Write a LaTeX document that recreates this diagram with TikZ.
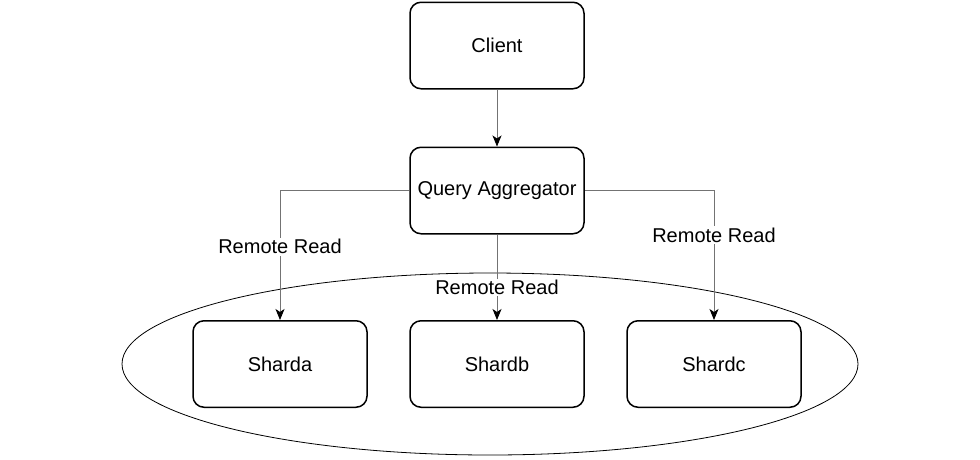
\documentclass[tikz,border=0pt]{standalone}
\usepackage{fontspec}
\setmainfont{Liberation Sans}
\usetikzlibrary{arrows.meta,shapes.geometric}
\begin{document}
\begin{tikzpicture}[x=1pt,y=-1pt,
  box/.style={draw=black,line width=1.5pt,rounded corners=11pt,minimum width=174pt,minimum height=86.5pt,inner sep=0pt,font=\fontsize{20}{24}\selectfont},
  conn/.style={draw=black!55,line width=0.9pt,-{Stealth[length=11pt,width=9pt,inset=3pt,black]}},
  lbl/.style={fill=white,inner sep=1.5pt,font=\fontsize{20}{24}\selectfont}]
\useasboundingbox (0,0) rectangle (980,459);
\node[draw=black,line width=0.8pt,ellipse,minimum width=736pt,minimum height=182pt,inner sep=0pt] (grp) at (490,364) {};
\node[box] (client) at (497,45.5) {Client};
\node[box] (qa) at (497,190.5) {Query Aggregator};
\node[box] (sa) at (280,364) {Sharda};
\node[box] (sb) at (497,364) {Shardb};
\node[box] (sc) at (714,364) {Shardc};
\draw[conn] (client) -- (qa);
\draw[conn] (qa.west) -| (sa.north) node[lbl,pos=0.717] (l1) {Remote Read};
\draw[conn] (qa.south) -- (sb.north) node[lbl,pos=0.62] (l2) {Remote Read};
\draw[conn] (qa.east) -| (sc.north) node[lbl,pos=0.672] (l3) {Remote Read};
\end{tikzpicture}
\end{document}
